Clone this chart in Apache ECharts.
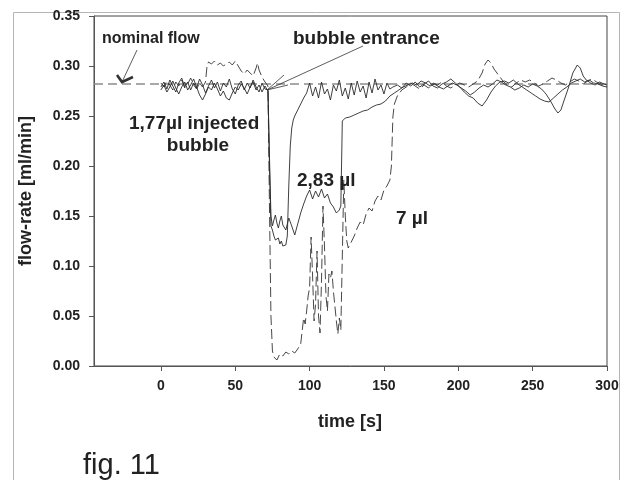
<!DOCTYPE html>
<html>
<head>
<meta charset="utf-8">
<script src="https://cdn.jsdelivr.net/npm/echarts@6/dist/echarts.min.js"></script>
<style>
  html, body { margin: 0; padding: 0; background: #fff; }
  #chart { width: 627px; height: 480px; }
</style>
</head>
<body>
<div id="chart"></div>
<script>
// nominal flow level [ml/min]
const nominalFlow = 0.282;

const xTicks = [0, 50, 100, 150, 200, 250, 300];

// 1,77 ul bubble (solid)
const timeA = [0,2,4,6,8,10,12,14,16,18,20,22,24,26,28,30,32,34,36,38,40,42,44,46,48,50,52,54,56,58,60,62,64,66,68,70,
  72,73,74,75,76,77,78,79,80,81,82,83,84,85,86,87,88,89,90,92,94,96,
  98,100,102,104,106,108,110,112,114,116,118,120,122,124,126,128,130,132,134,136,138,140,142,144,146,148,150,152,154,156,
  159,162,165,168,171,174,177,180,183,186,189,192,195,198,201,204,207,210,213,216,219,222,225,228,231,234,237,240,243,246,249,252,255,258,261,264,267,270,273,276,279,282,285,288,291,294,297,300];
const flowA = [0.279,0.284,0.277,0.286,0.280,0.274,0.283,0.288,0.279,0.284,0.276,0.283,0.278,0.287,0.281,0.273,0.280,0.286,0.278,0.284,0.275,0.283,0.279,0.287,0.277,0.272,0.281,0.285,0.276,0.283,0.278,0.286,0.279,0.274,0.283,0.277,
  0.276,0.200,0.140,0.136,0.130,0.126,0.124,0.128,0.122,0.125,0.120,0.118,0.121,0.130,0.180,0.220,0.238,0.246,0.250,0.256,0.262,0.268,
  0.273,0.283,0.270,0.279,0.268,0.284,0.272,0.277,0.266,0.281,0.275,0.286,0.270,0.278,0.267,0.283,0.271,0.285,0.274,0.280,0.268,0.284,0.273,0.287,0.276,0.281,0.272,0.283,0.277,0.279,
  0.281,0.278,0.283,0.280,0.284,0.279,0.282,0.285,0.280,0.278,0.282,0.284,0.287,0.283,0.279,0.274,0.270,0.268,0.263,0.260,0.266,0.274,0.280,0.284,0.285,0.283,0.286,0.282,0.279,0.276,0.273,0.270,0.267,0.265,0.264,0.268,0.272,0.276,0.279,0.283,0.285,0.287,0.284,0.286,0.283,0.282,0.280,0.279];

// 2,83 ul bubble (solid)
const timeB = [0,2,4,6,8,10,12,14,16,18,20,22,24,26,28,30,32,34,36,38,40,42,44,46,48,50,52,54,56,58,60,62,64,66,68,70,
  72,73,74,75,76,77,78,79,80,81,82,84,86,88,90,92,94,96,98,100,102,104,106,108,110,112,114,116,118,120,121,122,
  124,127,130,133,136,139,142,145,148,151,154,157,160,163,166,169,172,175,178,181,184,187,190,193,196,199,202,205,208,211,214,217,220,223,226,229,232,235,238,241,244,247,250,253,256,259,262,265,267,269,271,274,277,280,282,284,286,289,292,295,298,300];
const flowB = [0.276,0.281,0.274,0.279,0.285,0.278,0.272,0.279,0.284,0.276,0.281,0.287,0.279,0.271,0.266,0.272,0.279,0.276,0.283,0.277,0.270,0.275,0.268,0.266,0.273,0.279,0.276,0.282,0.278,0.272,0.279,0.284,0.276,0.281,0.274,0.280,
  0.275,0.210,0.150,0.140,0.146,0.151,0.143,0.138,0.145,0.150,0.141,0.136,0.148,0.140,0.131,0.142,0.153,0.162,0.170,0.176,0.167,0.175,0.169,0.177,0.168,0.172,0.163,0.159,0.153,0.156,0.160,0.245,
  0.248,0.249,0.251,0.253,0.255,0.256,0.259,0.261,0.262,0.265,0.270,0.273,0.276,0.279,0.281,0.283,0.281,0.285,0.283,0.280,0.282,0.279,0.277,0.280,0.283,0.281,0.278,0.275,0.271,0.274,0.278,0.281,0.279,0.282,0.286,0.284,0.281,0.279,0.276,0.278,0.281,0.279,0.282,0.280,0.277,0.272,0.265,0.257,0.253,0.256,0.265,0.278,0.293,0.301,0.298,0.290,0.286,0.283,0.281,0.284,0.282,0.281];

// 7 ul bubble (dashed)
const timeC = [0,2,4,6,8,10,12,14,16,18,20,22,24,26,28,30,31,32,34,36,38,40,42,44,46,48,50,52,54,56,58,60,62,64,65,66,68,70,
  72,73,74,75,76,78,80,82,84,86,88,90,92,94,95,96,97,98,99,100,101,102,103,104,105,106,107,108,109,110,111,112,113,114,115,116,117,118,119,120,121,122,123,124,125,126,
  128,130,132,134,136,138,140,142,144,146,148,150,152,154,155,156,157,159,162,165,168,171,174,177,180,183,186,189,192,195,198,201,204,207,210,213,216,218,220,222,224,227,230,233,236,239,242,245,248,251,254,257,260,263,266,269,272,275,278,281,284,287,290,293,296,298,300];
const flowC = [0.283,0.279,0.285,0.281,0.276,0.284,0.280,0.286,0.278,0.282,0.288,0.281,0.277,0.283,0.279,0.284,0.300,0.304,0.302,0.305,0.301,0.303,0.300,0.302,0.304,0.301,0.305,0.300,0.295,0.292,0.296,0.293,0.290,0.298,0.303,0.296,0.289,0.284,
  0.280,0.160,0.050,0.015,0.009,0.006,0.012,0.010,0.014,0.012,0.015,0.013,0.017,0.022,0.035,0.048,0.042,0.055,0.070,0.078,0.129,0.090,0.045,0.062,0.115,0.050,0.033,0.085,0.160,0.120,0.070,0.055,0.092,0.088,0.095,0.075,0.060,0.045,0.032,0.048,0.036,0.110,0.186,0.150,0.125,0.118,
  0.124,0.130,0.138,0.144,0.141,0.152,0.158,0.155,0.165,0.170,0.166,0.176,0.180,0.186,0.200,0.249,0.262,0.270,0.276,0.279,0.283,0.280,0.277,0.281,0.278,0.283,0.281,0.284,0.280,0.278,0.281,0.283,0.281,0.279,0.282,0.285,0.293,0.302,0.306,0.303,0.297,0.291,0.285,0.281,0.279,0.283,0.286,0.284,0.286,0.283,0.280,0.282,0.285,0.288,0.286,0.283,0.281,0.284,0.287,0.285,0.282,0.285,0.287,0.284,0.282,0.280,0.279];

const pairs = (t, v) => t.map((x, i) => [x, v[i]]);

const FONT = '"Liberation Sans", Arial, sans-serif';
const INK = '#222';

function label(text, x, y, size, weight, align) {
  return {
    type: 'text', x: x, y: y, z: 10,
    style: {
      text: text, fill: INK, fontSize: size, fontWeight: weight || 'bold', fontFamily: FONT,
      align: align || 'left', textAlign: align || 'left', verticalAlign: 'middle', textVerticalAlign: 'middle'
    }
  };
}

function stroke(points, width) {
  return {
    type: 'polyline', z: 10,
    shape: { points: points },
    style: { stroke: '#333', lineWidth: width || 0.8, fill: null }
  };
}

const chart = echarts.init(document.getElementById('chart'), null, { renderer: 'canvas' });

const option = {
  animation: false,
  backgroundColor: '#fff',
  grid: { left: 94, right: 20, top: 16, bottom: 114, show: true, borderColor: '#444', borderWidth: 1, containLabel: false },
  xAxis: {
    type: 'value', min: -45, max: 300,
    axisLine: { show: true, onZero: false, lineStyle: { color: '#555', width: 1 } },
    axisTick: { show: true, length: 5, customValues: xTicks, lineStyle: { color: '#555' } },
    axisLabel: { customValues: xTicks, margin: 13, color: INK, fontSize: 14, fontWeight: 'bold', fontFamily: FONT },
    splitLine: { show: false }
  },
  yAxis: {
    type: 'value', min: 0, max: 0.35, interval: 0.05,
    axisLine: { show: true, onZero: false, lineStyle: { color: '#555', width: 1 } },
    axisTick: { show: true, length: 5, lineStyle: { color: '#555' } },
    axisLabel: { margin: 14, color: INK, fontSize: 14, fontWeight: 'bold', fontFamily: FONT,
      formatter: v => v.toFixed(2) },
    splitLine: { show: false }
  },
  series: [
    {
      name: 'nominal', type: 'line', silent: true, showSymbol: false, z: 1,
      data: [[-45, nominalFlow], [300, nominalFlow]],
      lineStyle: { color: '#8c8c8c', width: 1.4, type: [9, 5] }
    },
    {
      name: '1,77 µl', type: 'line', showSymbol: false, z: 3,
      data: pairs(timeA, flowA),
      lineStyle: { color: '#2a2a2a', width: 0.9 }
    },
    {
      name: '2,83 µl', type: 'line', showSymbol: false, z: 3,
      data: pairs(timeB, flowB),
      lineStyle: { color: '#2a2a2a', width: 0.9 }
    },
    {
      name: '7 µl', type: 'line', showSymbol: false, z: 2,
      data: pairs(timeC, flowC),
      lineStyle: { color: '#333', width: 0.9, type: [10, 4] }
    }
  ],
  graphic: [
    {
      type: 'rect', z: 0, silent: true,
      shape: { x: 13.5, y: 12.5, width: 606, height: 480 },
      style: { stroke: '#b5b5b5', lineWidth: 1, fill: null }
    },
    // axis titles
    {
      type: 'text', x: 26, y: 191, rotation: Math.PI / 2, z: 10,
      style: { text: 'flow-rate [ml/min]', fill: INK, fontSize: 18, fontWeight: 'bold', fontFamily: FONT,
        align: 'center', textAlign: 'center', verticalAlign: 'middle', textVerticalAlign: 'middle' }
    },
    label('time [s]', 350, 422, 18, 'bold', 'center'),
    label('fig. 11', 83, 466, 29, 'normal'),
    // annotations
    label('nominal flow', 102, 39, 16),
    label('bubble entrance', 293, 39, 19),
    label('1,77µl injected', 129, 124, 19),
    label('bubble', 198, 146, 19, 'bold', 'center'),
    label('2,83 µl', 297, 181, 19),
    label('7 µl', 396, 219, 19),
    stroke([[137, 50], [122, 82]]),
    stroke([[117, 75], [122, 82], [133, 77]], 2.6),
    stroke([[363, 46], [267, 90]]),
    stroke([[284, 75], [267, 90], [288, 85]])
  ]
};

chart.setOption(option);
</script>
</body>
</html>
